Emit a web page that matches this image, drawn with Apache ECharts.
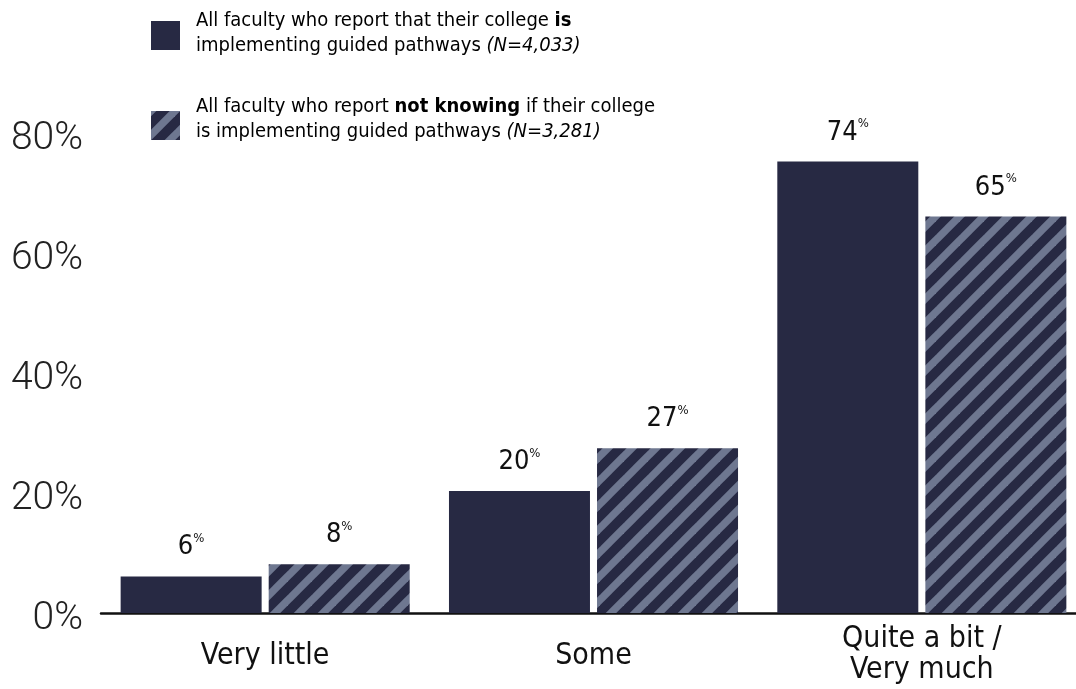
<!DOCTYPE html>
<html><head><meta charset="utf-8">
<script src="https://cdn.jsdelivr.net/npm/echarts@6/dist/echarts.min.js"></script>
<style>html,body{margin:0;padding:0;background:#fff}#c{width:1076px;height:689px}</style>
</head><body><div id="c"></div>
<script>
const categories = ['Very little', 'Some', 'Quite a bit /\nVery much'];
const implementing = [6, 20, 74];
const notKnowing = [8, 27, 65];
const yTickLabels = ['0%', '20%', '40%', '60%', '80%'];
const legendLine1 = ['All faculty who report that their college ', 'is', ''];
const legendLine2 = ['implementing guided pathways ', '(N=4,033)'];
const legendLine3 = ['All faculty who report ', 'not knowing', ' if their college'];
const legendLine4 = ['is implementing guided pathways ', '(N=3,281)'];

const DARK = '#272943';
const LIGHT = '#6e7790';
const COND = '"Liberation Sans Narrow", "DejaVu Sans Condensed", "Liberation Sans", sans-serif';

function stripePattern() {
  const s = 24, w = 7.5;
  const c = document.createElement('canvas');
  c.width = s; c.height = s;
  const g = c.getContext('2d');
  g.fillStyle = DARK; g.fillRect(0, 0, s, s);
  g.strokeStyle = LIGHT; g.lineWidth = w;
  for (const k of [0, s, 2 * s]) {
    g.beginPath(); g.moveTo(-s, k + s); g.lineTo(k + s, -s); g.stroke();
  }
  return c;
}
const pat = { image: stripePattern(), repeat: 'repeat' };

const labelRich = {
  v: { fontSize: 27, fontFamily: COND, color: '#111', lineHeight: 30 },
  p: { fontSize: 13, fontFamily: COND, color: '#111', verticalAlign: 'top', lineHeight: 30, padding: [0, 0, 12, 0] }
};
function barLabel() {
  return { show: true, position: 'top', distance: 14, formatter: p => '{v|' + p.value + '}{p|%}', rich: labelRich };
}

const legendRich = {
  n: { fontSize: 20, fontFamily: COND, color: '#222', lineHeight: 25 },
  b: { fontSize: 20, fontFamily: COND, color: '#111', fontWeight: 'bold', lineHeight: 25 },
  i: { fontSize: 20, fontFamily: COND, color: '#222', fontStyle: 'italic', lineHeight: 25 }
};

const catData = categories.map(c => c.includes('\n') ? c : { value: c, textStyle: { padding: [17, 0, 0, 0] } });

const chart = echarts.init(document.getElementById('c'), null, { renderer: 'canvas' });
chart.setOption({
  animation: false,
  backgroundColor: '#fff',
  grid: [
    { left: 101, right: -10, top: 125, bottom: 76, outerBoundsMode: 'none', containLabel: false },
    { left: 101, right: -10, top: 139, bottom: 70, outerBoundsMode: 'none', containLabel: false }
  ],
  xAxis: [
    {
      type: 'category', gridIndex: 0, data: catData,
      axisLine: { lineStyle: { color: '#111', width: 2.5 } },
      axisTick: { show: false },
      axisLabel: { fontSize: 30, fontFamily: COND, color: '#111', margin: 11, lineHeight: 31 }
    },
    { type: 'category', gridIndex: 1, data: categories, show: false }
  ],
  yAxis: [
    { type: 'value', gridIndex: 0, min: 0, max: 80, show: false },
    {
      type: 'value', gridIndex: 1, min: 0, max: 80, interval: 20,
      axisLine: { show: false }, axisTick: { show: false }, splitLine: { show: false },
      axisLabel: {
        margin: 18, fontSize: 39, fontFamily: 'Roboto, "Liberation Sans", sans-serif', fontWeight: 300, color: '#222',
        formatter: v => yTickLabels[Math.round(v / 20)]
      }
    }
  ],
  series: [
    {
      type: 'bar', xAxisIndex: 0, yAxisIndex: 0, data: implementing,
      barWidth: 141, barGap: '5%', itemStyle: { color: DARK }, label: barLabel()
    },
    {
      type: 'bar', xAxisIndex: 0, yAxisIndex: 0, data: notKnowing,
      barWidth: 141, barGap: '5%', itemStyle: { color: pat }, label: barLabel()
    }
  ],
  graphic: [
    { type: 'rect', left: 151, top: 21, shape: { width: 29, height: 29 }, style: { fill: DARK } },
    { type: 'rect', left: 151, top: 111, shape: { width: 29, height: 29 }, style: { fill: pat } },
    {
      type: 'text', left: 196, top: 11,
      style: {
        text: '{n|' + legendLine1[0] + '}{b|' + legendLine1[1] + '}\n{n|' + legendLine2[0] + '}{i|' + legendLine2[1] + '}',
        rich: legendRich
      }
    },
    {
      type: 'text', left: 196, top: 97,
      style: {
        text: '{n|' + legendLine3[0] + '}{b|' + legendLine3[1] + '}{n|' + legendLine3[2] + '}\n{n|' + legendLine4[0] + '}{i|' + legendLine4[1] + '}',
        rich: legendRich
      }
    }
  ]
});
</script>
</body></html>
